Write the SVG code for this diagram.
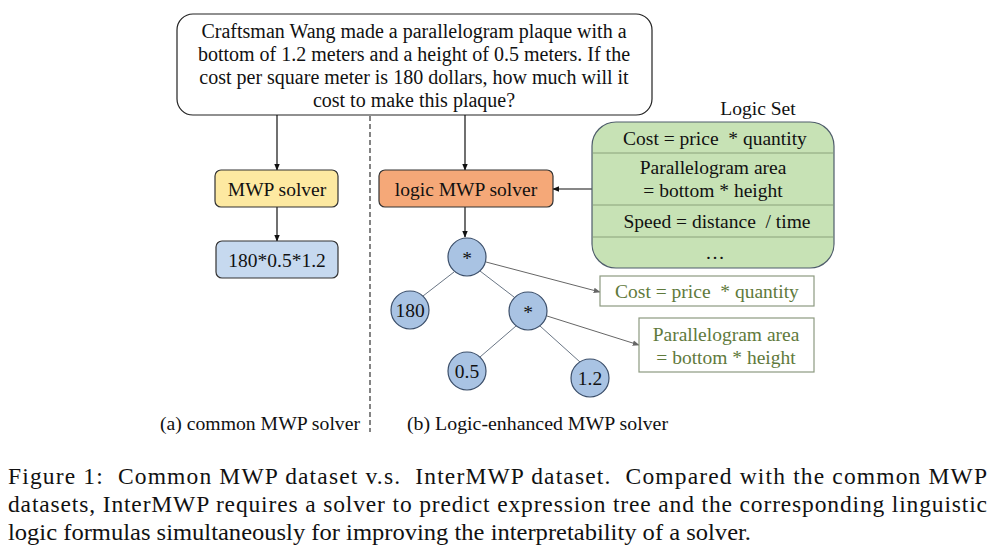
<svg xmlns="http://www.w3.org/2000/svg" width="1001" height="549" viewBox="0 0 1001 549" font-family="Liberation Serif, serif">
<defs>
<marker id="ah" viewBox="0 0 10 10" refX="9" refY="5" markerWidth="7" markerHeight="7" orient="auto" markerUnits="userSpaceOnUse"><path d="M0,1 L10,5 L0,9 z" fill="#111"/></marker>
<marker id="ahg" viewBox="0 0 10 10" refX="9" refY="5" markerWidth="7" markerHeight="7" orient="auto" markerUnits="userSpaceOnUse"><path d="M0,1 L10,5 L0,9 z" fill="#666"/></marker>
</defs>
<style>
text{fill:#111}
.t{font-size:20px;text-anchor:middle}
.n{font-size:19.5px;text-anchor:middle}
.g{fill:#5f7a3c}
.box{stroke:#333;stroke-width:1.2}
.circ{fill:#a9c3e3;stroke:#3c4f6a;stroke-width:1.2}
.edge{stroke:#6a7685;stroke-width:1}
.arr{stroke:#111;stroke-width:1.2;fill:none;marker-end:url(#ah)}
.garr{stroke:#666;stroke-width:1;fill:none;marker-end:url(#ahg)}
.cap{font-size:23.5px}
.sub{font-size:19px}
</style>
<rect width="1001" height="549" fill="#fff"/>
<g id="question">
<rect x="177" y="14" width="475" height="101" rx="16" fill="#fff" stroke="#222" stroke-width="1.2"/>
<text class="t" x="414" y="38">Craftsman Wang made a parallelogram plaque with a</text>
<text class="t" x="414" y="61">bottom of 1.2 meters and a height of 0.5 meters. If the</text>
<text class="t" x="414" y="84">cost per square meter is 180 dollars, how much will it</text>
<text class="t" x="414" y="107">cost to make this plaque?</text>
</g>
<g id="connectors">
<line class="arr" x1="277" y1="115" x2="277" y2="170"/>
<line class="arr" x1="277" y1="207" x2="277" y2="241"/>
<line class="arr" x1="465" y1="115" x2="465" y2="170"/>
<line class="arr" x1="465" y1="207" x2="465" y2="237"/>
<line class="arr" x1="592" y1="189" x2="553" y2="189"/>
<line x1="370" y1="116" x2="370" y2="432" stroke="#333" stroke-width="1.2" stroke-dasharray="5,3"/>
<line class="edge" x1="454" y1="272" x2="423" y2="296"/>
<line class="edge" x1="480" y1="271" x2="514" y2="297"/>
<line class="edge" x1="516" y1="326" x2="480" y2="357"/>
<line class="edge" x1="540" y1="326" x2="580" y2="362"/>
<line class="garr" x1="486" y1="262" x2="600" y2="292"/>
<line class="garr" x1="547" y1="316" x2="639" y2="345"/>
</g>
<g id="mwp-solver">
<rect class="box" x="215" y="170" width="123" height="37" rx="6" fill="#fde9a1"/>
<text class="n" x="277" y="195.5">MWP solver</text>
</g>
<g id="mwp-output">
<rect class="box" x="216" y="241" width="122" height="37" rx="6" fill="#c6d9ef"/>
<text class="n" x="277" y="266.5">180*0.5*1.2</text>
</g>
<g id="logic-solver">
<rect class="box" x="379" y="170" width="174" height="37" rx="6" fill="#f5a878"/>
<text class="n" x="466" y="195.5">logic MWP solver</text>
</g>
<g id="logic-set">
<text class="n" x="758" y="115">Logic Set</text>
<rect x="592" y="122" width="242" height="146" rx="24" fill="#c7e2b5" stroke="#4f5d6b" stroke-width="1.2"/>
<line x1="593" y1="153" x2="833" y2="153" stroke="#8aa27a" stroke-width="1"/>
<line x1="593" y1="205" x2="833" y2="205" stroke="#8aa27a" stroke-width="1"/>
<line x1="593" y1="237" x2="833" y2="237" stroke="#8aa27a" stroke-width="1"/>
<text class="n" x="715" y="145" xml:space="preserve">Cost = price  * quantity</text>
<text class="n" x="713" y="174">Parallelogram area</text>
<text class="n" x="713" y="197">= bottom * height</text>
<text class="n" x="717" y="228" xml:space="preserve">Speed = distance  / time</text>
<text class="n" x="715" y="259">…</text>
</g>
<g id="node-root"><circle class="circ" cx="467" cy="257" r="19"/><text class="n" x="467" y="265">*</text></g>
<g id="node-180"><circle class="circ" cx="410" cy="310" r="19"/><text class="n" x="410" y="317">180</text></g>
<g id="node-mul"><circle class="circ" cx="528" cy="311" r="19"/><text class="n" x="528" y="319">*</text></g>
<g id="node-05"><circle class="circ" cx="467" cy="371" r="19"/><text class="n" x="467" y="378">0.5</text></g>
<g id="node-12"><circle class="circ" cx="590" cy="378" r="19"/><text class="n" x="590" y="385">1.2</text></g>
<g id="formula-cost">
<rect x="600" y="276" width="214" height="30" fill="#fff" stroke="#8d9a80" stroke-width="1.2"/>
<text class="n g" x="707" y="298" xml:space="preserve">Cost = price  * quantity</text>
</g>
<g id="formula-area">
<rect x="639" y="318" width="175" height="54" fill="#fff" stroke="#8d9a80" stroke-width="1.2"/>
<text class="n g" x="726" y="341">Parallelogram area</text>
<text class="n g" x="726" y="364">= bottom * height</text>
</g>
<g id="captions">
<text class="sub" x="160" y="430" textLength="200" lengthAdjust="spacingAndGlyphs">(a) common MWP solver</text>
<text class="sub" x="407" y="430" textLength="261" lengthAdjust="spacingAndGlyphs">(b) Logic-enhanced MWP solver</text>
<text class="cap" x="8" y="484" textLength="979" lengthAdjust="spacing" xml:space="preserve">Figure 1:  Common MWP dataset v.s.  InterMWP dataset.  Compared with the common MWP</text>
<text class="cap" x="8" y="512" textLength="979" lengthAdjust="spacing">datasets, InterMWP requires a solver to predict expression tree and the corresponding linguistic</text>
<text class="cap" x="8" y="540" textLength="743" lengthAdjust="spacingAndGlyphs">logic formulas simultaneously for improving the interpretability of a solver.</text>
</g>
</svg>
